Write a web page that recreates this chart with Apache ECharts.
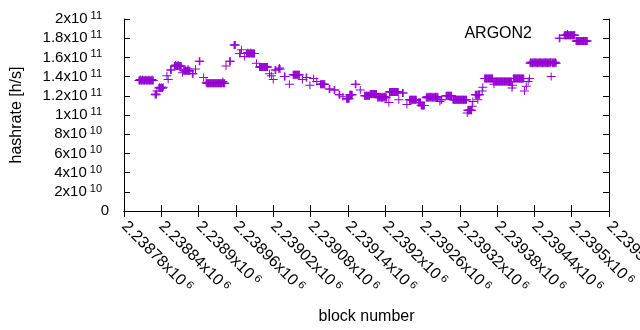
<!DOCTYPE html>
<html><head><meta charset="utf-8">
<script src="https://cdn.jsdelivr.net/npm/echarts@6/dist/echarts.min.js"></script>
<style>html,body{margin:0;padding:0;background:#fff}#c{width:640px;height:330px}</style>
</head><body><div id="c"></div>
<script>
const seriesName = 'ARGON2';
const xTitle = 'block number';
const yTitle = 'hashrate [h/s]';
const xMin = 2238780, xMax = 2239560, xStep = 60;
const yMin = 0, yMax = 2e11, yStep = 2e10;

// block numbers
const blocks = [
2238804,2238805,2238806,2238807,2238808,2238809,2238810,2238811,2238812,2238813,2238814,2238815,2238816,2238817,2238818,2238819,2238820,2238821,2238822,2238823,2238824,2238825,2238826,2238827,
2238830,2238831,2238832,2238833,
2238836,2238837,2238838,2238839,2238840,2238841,2238842,2238843,
2238849,2238851,2238855,2238856,
2238861,2238862,2238863,2238864,2238865,2238866,2238867,2238868,2238869,2238870,2238871,2238872,
2238874,
2238876,2238877,2238878,2238879,2238880,2238881,2238882,2238883,2238884,2238885,2238886,
2238890,2238891,2238895,2238901,2238902,2238908,
2238912,2238913,2238914,2238915,2238916,2238917,2238918,2238919,2238920,2238921,2238922,2238923,2238924,2238925,2238926,2238927,2238928,2238929,2238930,2238931,2238932,2238933,2238934,2238935,2238936,2238937,2238938,2238939,2238940,2238941,2238942,
2238944,2238950,2238951,2238957,2238958,2238959,
2238966,2238967,2238969,2238974,
2238977,2238978,2238979,2238980,2238981,2238982,2238983,2238984,2238985,2238986,2238987,2238988,2238989,2238990,
2238993,
2238998,2238999,2239000,2239001,2239002,2239003,2239004,2239005,2239006,2239007,2239008,2239009,2239010,2239011,
2239014,2239017,2239020,2239023,2239024,2239029,2239030,2239031,
2239038,2239039,2239046,
2239052,2239053,2239054,2239055,2239056,2239057,2239058,2239059,2239060,2239061,2239062,
2239067,2239073,2239074,2239079,2239085,2239090,
2239096,2239097,2239098,2239099,2239100,2239101,2239102,2239103,
2239110,2239111,2239118,2239119,2239126,2239127,2239132,
2239138,2239139,2239140,2239141,2239142,2239143,2239144,2239145,2239146,2239147,
2239152,2239153,2239160,
2239167,2239168,2239169,2239170,2239171,2239172,2239173,2239174,2239175,2239176,2239177,2239178,2239179,2239180,2239181,2239182,2239183,2239184,2239185,2239186,
2239188,2239189,2239190,2239191,2239192,2239193,2239194,2239195,2239196,2239197,2239198,2239199,2239200,2239201,2239202,
2239206,
2239207,2239208,2239209,2239210,2239211,2239212,2239213,2239214,2239215,2239216,2239217,2239218,2239219,2239220,2239221,
2239222,2239228,2239229,2239235,
2239239,2239240,2239241,2239242,2239243,2239244,2239245,2239246,2239247,2239248,2239249,2239250,
2239253,2239254,2239255,2239256,2239257,2239258,2239259,2239260,2239261,2239262,2239263,
2239266,2239267,2239268,2239269,2239270,2239271,2239272,2239273,2239274,2239275,2239276,2239277,2239278,2239279,2239280,2239281,2239282,2239283,2239284,2239285,
2239288,2239290,2239291,
2239298,2239299,2239300,2239301,2239302,2239303,2239304,2239305,2239306,2239307,
2239309,2239310,2239311,2239312,2239313,2239314,2239315,2239316,2239317,2239318,2239319,2239320,2239321,2239322,2239323,2239324,2239325,2239326,2239327,2239328,2239329,2239330,2239331,
2239332,2239333,2239334,2239335,2239336,2239337,2239338,2239339,2239340,2239341,
2239345,2239346,2239347,2239348,2239349,2239350,2239351,2239352,
2239356,2239357,
2239360,2239361,2239362,2239363,2239364,2239365,2239366,2239367,2239368,2239369,2239370,2239371,2239372,2239373,
2239374,2239375,2239376,2239377,2239378,2239379,2239380,2239381,2239382,2239383,2239384,2239385,2239386,2239387,2239388,2239389,2239390,2239391,2239392,2239393,2239394,2239395,2239396,2239397,2239398,2239399,2239400,2239401,2239402,2239403,
2239404,2239405,
2239406,2239407,2239408,2239409,2239410,2239411,2239412,2239413,2239414,2239415,2239416,2239417,2239418,2239419,2239420,2239421,2239422,2239423,
2239424,2239427,2239430,2239432,
2239433,2239434,2239435,2239436,2239437,2239438,2239439,2239440,2239441,2239442,2239443,2239444,2239445,2239446,2239447,2239448,2239449,2239450,2239451,2239452,2239453,2239454,2239455,2239456,2239457,2239458,2239459,2239460,2239461,2239462,2239463,2239464,2239465,2239466,2239467,2239468,2239469,2239470,2239471,2239472,2239473,2239474,2239475,
2239480,2239481,
2239488,2239489,2239490,2239491,2239492,2239493,2239494,2239495,2239496,2239497,2239498,2239499,2239500,2239501,2239502,2239503,2239504,2239505,
2239507,2239508,2239509,2239510,2239511,2239512,2239513,2239514,2239515,2239516,2239517,2239518,2239519,2239520,2239521,2239522,2239523,2239524,2239525
];

// hashrate in units of 1e9 h/s (one per block above)
const hashrateG = [
136,136,137,136,136,136,137,136,136,136,136,137,136,136,136,136,137,136,136,136,136,137,136,136,
121,122,121,125,
128,129,128,128,129,128,128,129,
141,137,147,147,
151,151,152,151,151,151,152,151,151,151,151,151,
144,
146,146,146,146,146,146,146,148,146,146,146,
143,143,148,156,156,139,
134,133,133,133,133,133,133,133,133,133,133,133,133,133,133,133,133,133,133,133,133,133,133,133,133,133,133,135,133,133,133,
151,156,156,173,173,173,
164,164,168,161,
164,164,165,164,164,164,164,165,164,164,164,164,164,164,
154,
150,150,150,150,150,150,150,150,150,150,150,150,150,150,
143,141,137,147,147,148,149,148,
140,140,132,
142,142,142,142,142,142,142,142,142,142,142,
137,139,139,131,138,135,
132,132,132,132,132,132,132,132,
127,127,126,126,121,121,119,
117,117,117,117,117,121,121,121,121,121,
132,132,126,
120,120,120,120,120,120,120,120,120,122,122,122,122,122,122,122,122,122,122,122,
118,119,118,119,118,119,118,119,118,119,118,119,118,119,118,
113,
124,124,124,124,124,124,124,124,124,124,124,124,124,124,124,
116,123,123,111,
116,116,116,116,116,116,116,116,116,116,116,116,
113,113,113,113,113,110,110,110,110,110,110,
118,119,118,119,118,119,118,119,118,119,118,119,118,119,118,119,118,119,118,119,
114,116,116,
120,120,120,120,120,120,120,120,120,120,
116,116,116,116,116,116,116,116,116,116,116,116,116,116,116,116,116,116,116,116,116,116,116,
102,105,105,105,105,105,105,105,109,114,
121,121,121,121,116,121,121,121,
125,129,
138,138,138,138,138,138,138,138,138,138,138,138,138,138,
135,132,135,135,135,135,135,135,135,135,135,135,135,135,135,135,135,135,135,135,135,135,135,135,135,135,135,135,135,135,
128,131,
138,138,138,138,138,138,138,138,138,138,138,138,138,138,138,138,138,138,
125,130,135,138,
154,155,154,155,154,155,154,155,154,155,154,155,154,155,154,155,154,155,154,155,154,155,154,155,154,155,154,155,154,155,154,155,154,155,140,155,154,155,154,155,154,155,154,
180,180,
183,183,183,183,183,183,183,183,183,183,183,183,183,183,183,183,183,183,
177,177,177,177,177,177,177,177,177,177,177,177,177,177,177,177,177,177,177
];

const FONT = '"Liberation Sans", Arial, sans-serif';
const COLOR = '#9400d3';
const PLUS = 'path://M0,3.5h9v1h-9zM4,0h1v8h-1z';

function sciParts(v, fixedExp) {
  if (v === 0) return null;
  const e = fixedExp != null ? fixedExp : Math.floor(Math.log10(Math.abs(v)) + 1e-9);
  const m = parseFloat((v / Math.pow(10, e)).toFixed(6));
  return { m: m, e: e };
}
function yFmt(v) {
  const p = sciParts(v);
  if (!p) return '{b|0}';
  return '{b|' + p.m + 'x10}{s|' + p.e + '}';
}
function xFmt(v) {
  const p = sciParts(v, 6);
  return '{b|' + p.m + 'x10}{s|' + p.e + '}';
}

const data = blocks.map((b, i) => [b, hashrateG[i] * 1e9]);

const axisLine = { show: true, lineStyle: { color: '#000', width: 1 } };
const tick = { show: true, inside: true, length: 6, lineStyle: { color: '#000', width: 1 } };

const chart = echarts.init(document.getElementById('c'), null, { renderer: 'canvas' });
chart.setOption({
  animation: false,
  backgroundColor: '#fff',
  textStyle: { fontFamily: FONT },
  grid: { left: 124, right: 31, top: 19, bottom: 119, containLabel: false, outerBoundsMode: 'none' },
  legend: {
    data: [{ name: seriesName, icon: PLUS }],
    right: 68, top: 26, padding: 0, align: 'right',
    itemWidth: 9, itemHeight: 8,
    textStyle: { fontFamily: FONT, fontSize: 16, color: '#000', padding: [0, 26, 0, 0] }
  },
  xAxis: [{
    type: 'value', min: xMin, max: xMax, interval: xStep, position: 'bottom',
    name: xTitle, nameLocation: 'middle', nameGap: 98,
    nameTextStyle: { fontFamily: FONT, fontSize: 16, color: '#000' },
    axisLine: axisLine, axisTick: tick, splitLine: { show: false },
    axisLabel: {
      rotate: -45, margin: 13, color: '#000', formatter: xFmt,
      rich: { b: { fontFamily: FONT, fontSize: 16, color: '#000' },
              s: { fontFamily: FONT, fontSize: 11, color: '#000', verticalAlign: 'top', padding: [0, 0, 6, 3] } }
    }
  }, {
    type: 'value', min: xMin, max: xMax, interval: xStep, position: 'top',
    axisLine: axisLine, axisTick: tick, axisLabel: { show: false }, splitLine: { show: false }
  }],
  yAxis: [{
    type: 'value', min: yMin, max: yMax, interval: yStep, position: 'left',
    name: yTitle, nameLocation: 'middle', nameGap: 99,
    nameTextStyle: { fontFamily: FONT, fontSize: 16, color: '#000' },
    axisLine: axisLine, axisTick: tick, splitLine: { show: false },
    axisLabel: {
      margin: 15, color: '#000', formatter: yFmt,
      rich: { b: { fontFamily: FONT, fontSize: 15, color: '#000' },
              s: { fontFamily: FONT, fontSize: 11, color: '#000', verticalAlign: 'top', padding: [0, 7, 6, 3] } }
    }
  }, {
    type: 'value', min: yMin, max: yMax, interval: yStep, position: 'right',
    axisLine: axisLine, axisTick: tick, axisLabel: { show: false }, splitLine: { show: false }
  }],
  series: [{
    name: seriesName, type: 'scatter', xAxisIndex: 0, yAxisIndex: 0,
    symbol: PLUS, symbolSize: [9, 8], data: data,
    itemStyle: { color: COLOR, opacity: 1 }, emphasis: { disabled: true }
  }]
});
</script>
</body></html>
